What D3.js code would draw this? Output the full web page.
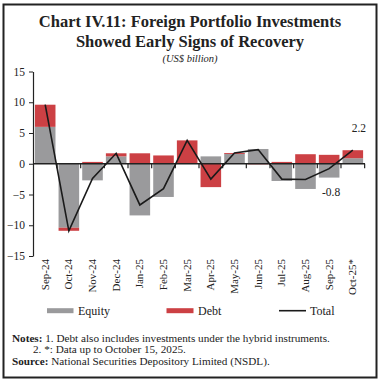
<!DOCTYPE html>
<html><head><meta charset="utf-8">
<script src="https://cdn.jsdelivr.net/npm/d3@7"></script>
<style>
body{margin:0;background:#fff;}
svg{display:block;}
text{font-family:"Liberation Serif","DejaVu Serif",serif;fill:#222;}
</style></head>
<body>
<svg id="chart" width="380" height="383"></svg>
<script>
const months = ["Sep-24","Oct-24","Nov-24","Dec-24","Jan-25","Feb-25","Mar-25","Apr-25","May-25","Jun-25","Jul-25","Aug-25","Sep-25","Oct-25*"];
const equity = [6.0,-10.4,-2.7,1.2,-8.4,-5.4,0.0,1.2,1.6,2.4,-2.8,-4.1,-2.25,0.9];
const debt   = [3.6,-0.5,0.3,0.5,1.7,1.35,3.8,-3.8,0.15,-0.1,0.3,1.55,1.45,1.3];
const total  = [9.6,-10.9,-2.4,1.7,-6.7,-4.05,3.8,-2.5,1.75,2.3,-2.5,-2.55,-0.8,2.2];
const yTicks = [-15,-10,-5,0,5,10,15];
const seriesNames = ["Equity","Debt"];
const colors = {Equity:"#9a9a9c", Debt:"#cc4044", Total:"#1a1a1a"};

const svg = d3.select("#chart");

// frame
svg.append("rect").attr("x",3.5).attr("y",4.5).attr("width",373).attr("height",373)
  .attr("fill","none").attr("stroke","#222").attr("stroke-width",2);

// titles
svg.append("text").attr("x",190).attr("y",26.5).attr("text-anchor","middle")
  .style("font-size","16.5px").style("font-weight","bold")
  .text("Chart IV.11: Foreign Portfolio Investments");
svg.append("text").attr("x",190).attr("y",46.5).attr("text-anchor","middle")
  .style("font-size","16.5px").style("font-weight","bold")
  .text("Showed Early Signs of Recovery");
svg.append("text").attr("x",190).attr("y",62).attr("text-anchor","middle")
  .style("font-size","10.5px").style("font-style","italic")
  .text("(US$ billion)");

const x = d3.scaleBand().domain(months).range([33,365]).paddingInner(0.13).paddingOuter(0.08);
const y = d3.scaleLinear().domain([-15,15]).range([256,71.5]);

const table = months.map((m,i)=>({month:m, Equity:equity[i], Debt:debt[i]}));
const stack = d3.stack().keys(seriesNames).offset(d3.stackOffsetDiverging)(table);

svg.append("g").selectAll("g").data(stack).join("g")
  .attr("fill", d=>colors[d.key])
  .selectAll("rect").data(d=>d).join("rect")
  .attr("x", d=>x(d.data.month))
  .attr("width", x.bandwidth())
  .attr("y", d=>y(Math.max(d[0],d[1])))
  .attr("height", d=>Math.abs(y(d[0])-y(d[1])));

// y axis
const yAxis = svg.append("g").attr("transform","translate(33,0)")
  .call(d3.axisLeft(y).tickValues(yTicks).tickSize(4).tickSizeOuter(0).tickPadding(4));
yAxis.select(".domain").attr("stroke","#222").attr("stroke-width",1.2);
yAxis.selectAll(".tick line").attr("stroke","#222");
yAxis.selectAll("text").style("font-family","'Liberation Serif',serif").style("font-size","11.5px").attr("fill","#222");

// x axis at zero
const zeroY = y(0);
svg.append("line").attr("x1",33).attr("x2",365).attr("y1",zeroY).attr("y2",zeroY)
  .attr("stroke","#222").attr("stroke-width",1.5);
const step = x.step();
svg.append("g").selectAll("line").data(months).join("line")
  .attr("x1", d=>x(d)+x.bandwidth()+step*x.paddingInner()/2)
  .attr("x2", d=>x(d)+x.bandwidth()+step*x.paddingInner()/2)
  .attr("y1", zeroY).attr("y2", zeroY+4.5)
  .attr("stroke","#222").attr("stroke-width",1.2);

// x labels
svg.append("g").selectAll("text").data(months).join("text")
  .attr("transform", d=>`translate(${x(d)+x.bandwidth()/2+3.5},259) rotate(-90)`)
  .attr("text-anchor","end")
  .style("font-size","11px")
  .text(d=>d);

// total line
const line = d3.line().x((d,i)=>x(months[i])+x.bandwidth()/2).y(d=>y(d));
svg.append("path").datum(total).attr("d",line)
  .attr("fill","none").attr("stroke",colors.Total).attr("stroke-width",1.6);

// labels
const last = total.length-1;
svg.append("text").attr("x", x(months[last])+x.bandwidth()/2+6).attr("y", y(total[last])-18)
  .attr("text-anchor","middle").style("font-size","11.5px").text(total[last].toFixed(1));
svg.append("text").attr("x", x(months[last-1])+x.bandwidth()/2+2).attr("y", y(total[last-1])+27)
  .attr("text-anchor","middle").style("font-size","11.5px").text(total[last-1].toFixed(1));

// legend
const ly = 310.7;
svg.append("rect").attr("x",47).attr("y",ly-2.5).attr("width",26.5).attr("height",5).attr("fill",colors.Equity);
svg.append("text").attr("x",78).attr("y",ly+4).style("font-size","12px").text("Equity");
svg.append("rect").attr("x",166.5).attr("y",ly-2.5).attr("width",27).attr("height",5).attr("fill",colors.Debt);
svg.append("text").attr("x",198).attr("y",ly+4).style("font-size","12px").text("Debt");
svg.append("line").attr("x1",279).attr("x2",306).attr("y1",ly).attr("y2",ly).attr("stroke",colors.Total).attr("stroke-width",1.6);
svg.append("text").attr("x",310).attr("y",ly+4).style("font-size","12px").text("Total");

// notes
const n1 = svg.append("text").attr("x",12).attr("y",341.5).style("font-size","11.2px");
n1.append("tspan").style("font-weight","bold").text("Notes:");
n1.append("tspan").text(" 1. Debt also includes investments under the hybrid instruments.");
svg.append("text").attr("x",33).attr("y",352.8).style("font-size","11.2px").text("2. *: Data up to October 15, 2025.");
const n3 = svg.append("text").attr("x",12).attr("y",364.5).style("font-size","11.2px");
n3.append("tspan").style("font-weight","bold").text("Source:");
n3.append("tspan").text(" National Securities Depository Limited (NSDL).");
</script>
</body></html>
